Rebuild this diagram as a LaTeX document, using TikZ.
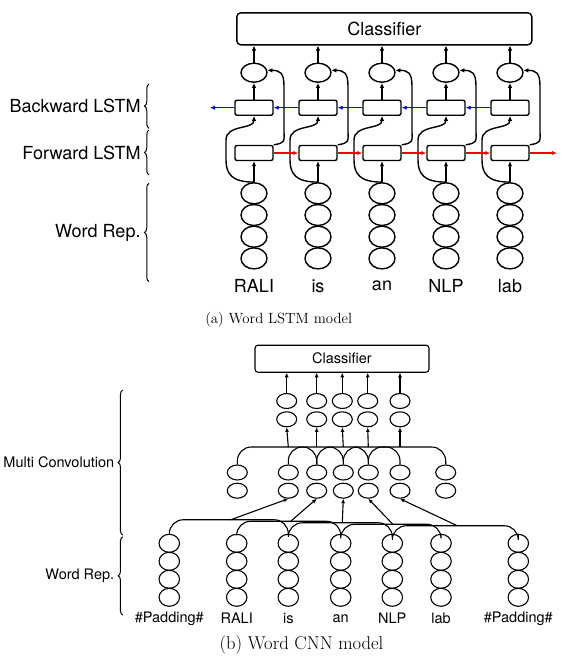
\documentclass[tikz,border=0pt]{standalone}
\usepackage{fontspec}
\newfontfamily\helv{TeX Gyre Heros}
\usetikzlibrary{arrows.meta,shapes.geometric,decorations.pathreplacing,calc}

\tikzset{
  biglbl/.style={font=\helv\fontsize{18}{20}\selectfont, inner sep=0pt},
  smalllbl/.style={font=\helv\fontsize{14.5}{16}\selectfont, inner sep=0pt},
  lstmcell/.style={draw, rounded corners=2pt, minimum width=38pt, minimum height=15pt, inner sep=0pt, line width=1.4pt},
  bigunit/.style={draw, ellipse, minimum width=26pt, minimum height=19pt, inner sep=0pt, line width=1.4pt},
  smallunit/.style={draw, ellipse, minimum width=20pt, minimum height=15pt, inner sep=0pt, line width=1.1pt},
  bigarr/.style={-{Latex[length=5pt,width=4.5pt]}, line width=1.4pt},
  smallarr/.style={-{Latex[length=4.5pt,width=4pt]}, line width=1.1pt},
  layerbrace/.style={decorate, decoration={brace, amplitude=4.5pt}, line width=1pt},
}

\begin{document}
\begin{tikzpicture}[x=1pt,y=-1pt]
  \useasboundingbox (0,0) rectangle (566,657);

  % (a) word LSTM model
  \node[draw, rounded corners=4pt, minimum width=295pt, minimum height=32pt, line width=1.4pt, biglbl] (cls) at (384.3,28.8) {Classifier};

  \foreach \w [count=\i] in {RALI,is,an,NLP,lab} {
    \pgfmathsetmacro{\x}{190+64*\i}
    \node[bigunit] (out\i) at (\x,72.7) {};
    \node[lstmcell] (bw\i) at (\x,107.7) {};
    \node[lstmcell] (fw\i) at (\x,153) {};
    \foreach \k in {1,...,4}
      \node[bigunit, minimum height=21pt] (w\i-\k) at (\x,{171.6+21.7*\k}) {};
    \node[biglbl] (word\i) at (\x,286) {\w};
    \coordinate (lo\i) at (\x-28,160);
    \coordinate (hi\i) at (\x-28,140);
    \coordinate (ru\i) at (\x+30,130);
    \coordinate (rt\i) at (\x+30,86);
    \draw[bigarr] (out\i.north) -- (out\i.north |- cls.south);
    \draw[bigarr] (bw\i.north) -- (out\i.south);
    \draw[bigarr] (w\i-1.north) -- (fw\i.south);
    \draw[bigarr] (w\i-1.north) .. controls +(-22,0) and +(0,14) .. (lo\i) -- (hi\i) .. controls +(0,-16) and +(0,14) .. (bw\i.south);
    \draw[bigarr] (fw\i.north east) .. controls +(12,-2) and +(0,12) .. (ru\i) -- (rt\i) .. controls +(0,-14) and +(12,0) .. (out\i.10);
  }

  \foreach \i [evaluate=\i as \j using int(\i+1)] in {1,...,4} {
    \draw[bigarr, red] (fw\i.east) -- (fw\j.west);
    \draw[bigarr, blue] (bw\j.west) -- (bw\i.east);
  }
  \coordinate (fwend) at (557,153);
  \coordinate (bwend) at (210,107.7);
  \draw[bigarr, red] (fw5.east) -- (fwend);
  \draw[bigarr, blue] (bw1.west) -- (bwend);

  \draw[layerbrace] (149,128.3) -- (149,84) node[midway, anchor=east, xshift=-8pt, biglbl] (bwlbl) {Backward LSTM};
  \draw[layerbrace] (149,175) -- (149,130) node[midway, anchor=east, xshift=-8pt, biglbl] (fwlbl) {Forward LSTM};
  \draw[layerbrace] (149,281.7) -- (149,183.3) node[midway, anchor=east, xshift=-8pt, biglbl] (replbl) {Word Rep.};

  \node (capa) at (278.7,320) {\fontsize{14.8}{17}\selectfont (a) Word LSTM model};

  % (b) word CNN model
  \node[draw, rounded corners=3pt, minimum width=174pt, minimum height=27pt, line width=1.1pt, smalllbl] (cls2) at (342,358.7) {Classifier};

  \foreach \x [count=\i] in {286.7,316.7,342.3,367.7,400} {
    \node[smallunit] (pl\i-1) at (\x,401) {};
    \node[smallunit] (pl\i-2) at (\x,419.3) {};
    \draw[smallarr] (pl\i-1.north) -- (pl\i-1.north |- cls2.south);
  }

  \foreach \x [count=\i] in {237.3,288.3,316.7,343.3,368.3,400,445.7} {
    \node[smallunit] (cv\i-1) at (\x,472.5) {};
    \node[smallunit] (cv\i-2) at (\x,490.7) {};
  }

  \foreach \x/\w [count=\i] in {169.3/\#Padding\#,236.7/RALI,288.3/is,340.7/an,392.3/NLP,441/lab,518.3/\#Padding\#} {
    \foreach \k in {1,...,4}
      \node[smallunit, minimum width=20.5pt, minimum height=18pt] (wd\i-\k) at (\x,{525.3+18*\k}) {};
    \node[smalllbl] (wdl\i) at (\x,618.3) {\w};
  }

  \coordinate (convtop) at (0,447);
  \foreach \i [evaluate=\i as \m using int(\i+1), evaluate=\i as \n using int(\i+2)] in {1,...,5} {
    \coordinate (ct\i) at (cv\m-1 |- convtop);
    \draw[line width=1.1pt, rounded corners=14pt] (cv\i-1.north) |- (ct\i) -| (cv\n-1.north);
    \draw[smallarr] (ct\i) -- (pl\i-2.south);
    \coordinate (cb\i) at ($(wd\i-1.north)!0.5!(wd\n-1.north) + (2,{-15.5+1.5*\i})$);
    \draw[line width=1.1pt, rounded corners=14pt] (wd\i-1.north) |- (cb\i) -| (wd\n-1.north);
    \draw[smallarr] (cb\i) -- (cv\m-2.south);
  }

  \draw[layerbrace] (122.7,535) -- (122.7,390) node[midway, anchor=east, xshift=-8pt, smalllbl] (cvlbl) {Multi Convolution};
  \draw[layerbrace] (122.7,615) -- (122.7,536.7) node[midway, anchor=east, xshift=-8pt, smalllbl] (wrlbl) {Word Rep.};

  \node (capb) at (301.5,645) {\fontsize{18.6}{21}\selectfont (b) Word CNN model};
\end{tikzpicture}
\end{document}
